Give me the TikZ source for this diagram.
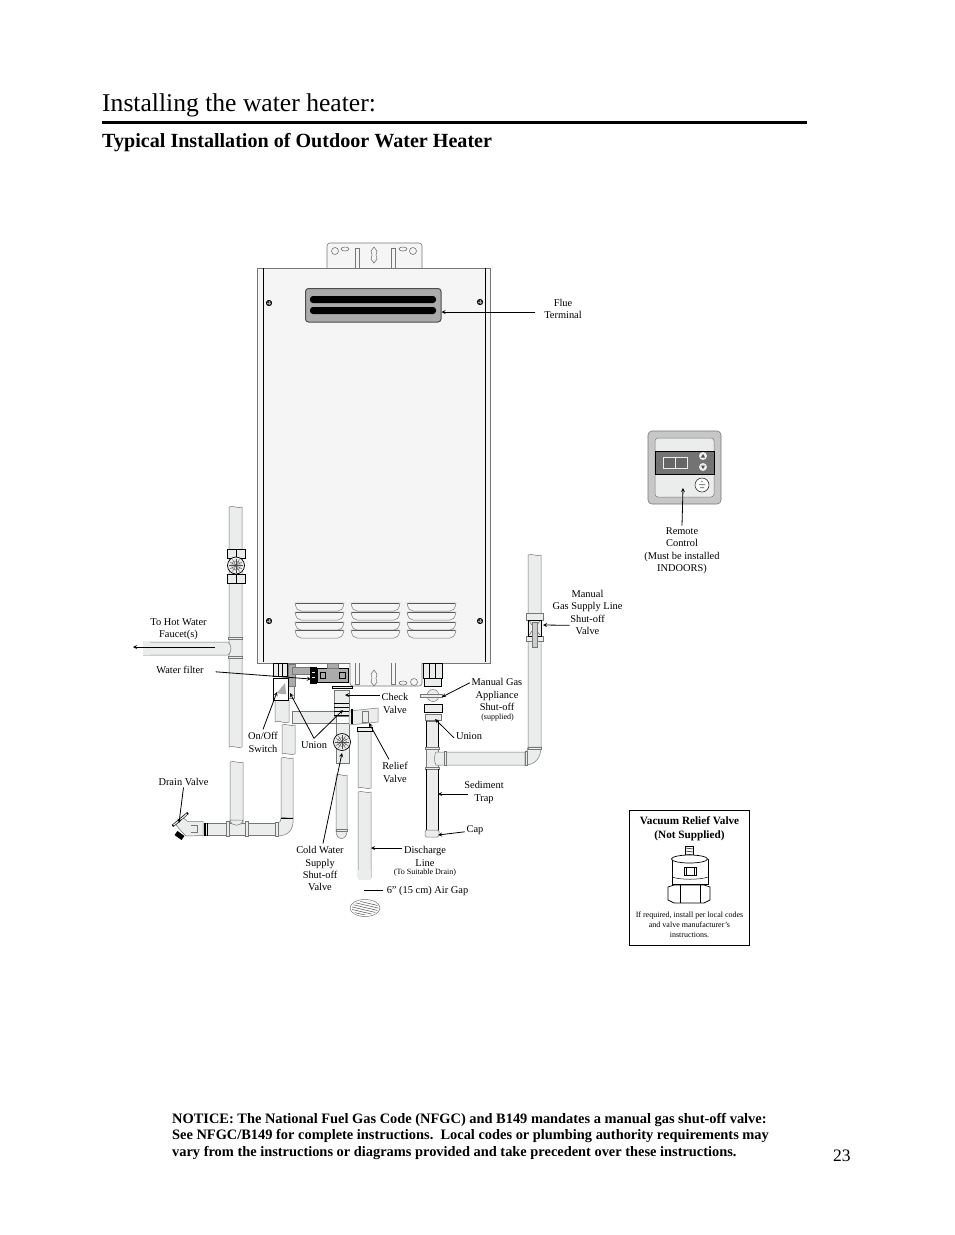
\documentclass[tikz,border=0pt]{standalone}
\usepackage{fontspec}
\setmainfont{Liberation Serif}
\definecolor{pipefill}{HTML}{EBECEC}
\definecolor{casefill}{HTML}{F5F5F5}
\definecolor{pipeline}{HTML}{777777}
\definecolor{fitfill}{HTML}{ABABAB}
\tikzset{
  lbl/.style={align=center,inner sep=0pt,outer sep=2pt,yshift=-0.8pt,font=\fontsize{10.4}{12.4}\selectfont},
  tiny/.style={align=center,inner sep=0pt,yshift=-0.8pt,font=\fontsize{8}{9.6}\selectfont},
  lead/.style={-stealth,black,line width=0.8pt},
  pipe/.style={draw=pipeline,fill=pipefill,line width=0.5pt},
  nut/.style={draw=black,fill=pipefill,line width=0.7pt},
  fit/.style={draw=black,fill=fitfill,line width=0.7pt},
  part/.style={draw=pipeline,fill=casefill,line width=0.6pt},
  screw/.style={circle,draw=black,fill=black!80,minimum size=5.5pt,inner sep=0pt,line width=0.6pt}
}
\begin{document}
\begin{tikzpicture}[x=1pt,y=-1pt]
\useasboundingbox (0,0) rectangle (954,1235);
\fill[white] (0,0) rectangle (954,1235);
\node[anchor=base west,inner sep=0pt,font=\fontsize{25.6}{30}\selectfont] (title) at (102,111.5) {Installing the water heater:};
\draw[line width=2.6pt] (102,122.5) -- (807,122.5);
\node[anchor=base west,inner sep=0pt,font=\fontsize{20.1}{22}\selectfont\bfseries] (heading) at (102,147) {Typical Installation of Outdoor Water Heater};
% wall bracket
\draw[part,rounded corners=3pt] (327,268) -- (327,243) -- (422,243) -- (422,268);
\draw[part] (335,251) circle (3.5) (413,251) circle (3.5);
\draw[part] (345,249) ellipse (4 and 2) (403,249) ellipse (4 and 2);
\draw[part] (355.5,268) -- (355.5,248) -- (359.5,248) -- (359.5,268);
\draw[part] (391,268) -- (391,248) -- (395,248) -- (395,268);
\draw[part] (374,247) -- (377,251) -- (376,255) -- (377,259) -- (374,263) -- (371,259) -- (372,255) -- (371,251) -- cycle;
% case
\draw[draw=pipeline,fill=casefill,line width=0.6pt] (257,268) rectangle (490,663);
\draw[line width=0.9pt] (263,268) -- (263,662) (485,268) -- (485,662);
\draw[draw=black!70,fill=fitfill,line width=1pt,rounded corners=3pt] (305.5,288.5) rectangle (441,322);
\foreach \y in {296,307}
  \fill[black,rounded corners=3pt] (310,\y) rectangle (436,\y+7);
\node[screw] (screwa) at (269,303) {};
\node[screw] (screwb) at (480,302) {};
\node[screw] (screwc) at (269,621) {};
\node[screw] (screwd) at (480,621) {};
\foreach \x/\y in {269/303,480/302,269/621,480/621}
  \draw[black!35,line width=0.3pt] (\x-2,\y) -- (\x+2,\y) (\x,\y-2) -- (\x,\y+2);
\foreach \x in {295,351,407}
  \foreach \y in {603,612,622,630} {
    \draw[draw=pipeline,fill=casefill,line width=0.5pt] (\x,\y) -- (\x+49,\y) .. controls (\x+48,\y+6) and (\x+46,\y+8) .. (\x+43,\y+8) -- (\x+6,\y+8) .. controls (\x+3,\y+8) and (\x+1,\y+6) .. (\x,\y) -- cycle;
    \draw[black!65,line width=1.1pt] (\x+1,\y+0.7) -- (\x+48,\y+0.7);
  }
% bottom bracket
\draw[part,rounded corners=3pt] (350,663) -- (350,686) -- (422,686) -- (422,663);
\draw[part] (355.5,663) -- (355.5,684) -- (359.5,684) -- (359.5,663);
\draw[part] (391,663) -- (391,684) -- (395,684) -- (395,663);
\draw[part] (374,670) -- (377,674) -- (376,678) -- (377,682) -- (374,686) -- (371,682) -- (372,678) -- (371,674) -- cycle;
\draw[part] (414,682) circle (3.5) (403,683) ellipse (4 and 2);
% hot water side
\foreach \xa/\ya/\xb/\yb in {229/507/242/747, 230/762/243/825, 282/725/295/754, 281/758/293/818, 336/775/347/831, 358/731/371/788, 358/792/371/880, 528/555/541/748}
  \draw[pipe] (\xa,\ya) .. controls (\xa+4,\ya-2) and (\xb-4,\ya+2) .. (\xb,\ya) -- (\xb,\yb) .. controls (\xb-4,\yb+2) and (\xa+4,\yb-2) .. (\xa,\yb) -- cycle;
\fill[white] (357,878) rectangle (372,882);
\fill[pipefill] (358.3,870) rectangle (370.7,880);
\draw[pipe] (143,642) -- (228,642) .. controls (232,645) and (232,652) .. (228,655) -- (143,655);
\fill[pipefill] (143,642.4) rectangle (150,654.6);
\foreach \y in {638,657}
  \draw[pipe] (228.5,\y-1.2) rectangle (242.5,\y+1.2);
\draw[nut] (227,549) rectangle (245,558) (227,574) rectangle (245,583);
\draw[black,line width=0.5pt] (236,549) -- (236,558) (236,574) -- (236,583);
\draw[nut] (236,565.5) circle (8.5);
\foreach \a in {0,30,...,150}
  \draw[black!70,line width=0.4pt] (236,565.5) ++(\a:7) -- ++(\a+180:14);
\draw[black!60,line width=0.4pt] (236,565.5) circle (4.5);
% drain line
\draw[pipe] (205,823) rectangle (277,835.5);
\foreach \x in {207,226,247}
  \draw[draw=black,line width=1pt] (\x,823) -- (\x,835.5);
\draw[pipe] (226.5,821.5) rectangle (229.5,836) (245.5,821.5) rectangle (248,836);
\draw[pipe] (230,820) .. controls (231,827) and (242,827) .. (243,820) -- cycle;
\draw[pipe] (281,818) -- (293,818) .. controls (294,830) and (288,836) .. (277,836) -- (277,823) .. controls (280,823) and (281,821) .. (281,818) -- cycle;
\draw[black,line width=1pt] (281,818) -- (293,818);
\draw[pipe] (275.5,822.5) rectangle (278,836);
\draw[pipe] (203,821.5) -- (188,821.5) -- (182,817) -- (176,825) -- (182,832) -- (186,836) -- (203,835.5) -- cycle;
\draw[black,line width=2pt] (204.5,822.5) -- (204.5,836);
\draw[black,line width=2.4pt] (172.5,826) -- (188,813);
\draw[pipefill,line width=1.2pt] (173.5,825.2) -- (187,814);
\draw[pipeline,line width=0.5pt] (191,825) -- (197,825) -- (197,832) -- (191,832);
\draw[black,line width=5pt] (176,833) -- (183,838);
% cold water side
\draw[pipe] (292,711) rectangle (336,723);
\draw[pipe] (336,723) rectangle (349,763);
\draw[nut] (342,742) circle (8.5);
\foreach \a in {0,30,...,150}
  \draw[black!70,line width=0.4pt] (342,742) ++(\a:7) -- ++(\a+180:14);
\draw[black!60,line width=0.4pt] (342,742) circle (4.5);
\draw[pipe] (336,831) .. controls (336,841) and (347,841) .. (347,831) -- cycle;
\draw[pipe] (336,829) rectangle (347,831);
\draw[pipe] (334,690) rectangle (349,716);
\foreach \y in {703,707,711,715}
  \draw[black,line width=1pt] (334,\y) -- (349,\y);
\draw[pipe] (349,711) -- (378,708) -- (378,722) -- (349,725) -- cycle;
\draw[black,line width=2pt] (352,709) -- (352,724);
\draw[pipeline] (362,711) rectangle (368,722);
\draw[nut] (357,727) rectangle (372,731);
% on/off switch and water filter
\draw[nut] (273,663) rectangle (287,676);
\foreach \x in {278,282}
  \draw[black,line width=0.4pt] (\x,663) -- (\x,676);
\draw[fit,draw=pipeline,fill=fitfill] (288,664) rectangle (295,686);
\draw[pipe] (275,700) -- (289,700) -- (289,722) .. controls (284,725) and (280,719) .. (275,722) -- cycle;
\draw[pipe] (288,686) rectangle (294,698);
\draw[fit,draw=pipeline] (292,667) rectangle (311,674);
\draw[draw=black,fill=white,line width=0.9pt] (273.5,678) rectangle (288,700);
\fill[fitfill] (277,693) -- (285,683) -- (286,694) -- (282,694) -- cycle;
\draw[fit] (317,668) rectangle (348,682);
\draw[fit,draw=pipeline] (327,663) rectangle (338,668);
\fill[black] (310,667) rectangle (317,684);
\draw[pipefill,line width=0.5pt] (312,672) -- (315,672) (312,677) -- (315,677);
\draw[nut,fill=fitfill] (320,672) rectangle (325,678) (339,672) rectangle (345,678);
\draw[nut] (332,686) rectangle (352,688.5);
% gas side
\draw[pipe] (426,721) rectangle (438.5,830);
\draw[pipe] (436,752) -- (525,752) -- (525,765) -- (436,765) .. controls (434,762) and (434,755) .. (436,752) -- cycle;
\draw[pipe] (528,747) -- (541,747) .. controls (541,758) and (535,765) .. (525,765) -- (525,752) .. controls (527,752) and (528,750) .. (528,747) -- cycle;
\draw[pipe] (444,751) rectangle (446,765) (525,751) rectangle (527,765) (528,747) rectangle (541,749);
\foreach \y in {748,768}
  \draw[pipe] (425.5,\y-1) rectangle (439,\y+1);
\draw[pipe,rounded corners=1.5pt] (425,830) rectangle (439,837);
\draw[black,line width=0.8pt] (426,721) -- (426,747) (438.5,721) -- (438.5,747) (426,769) -- (426,830) (438.5,769) -- (438.5,830);
\draw[nut] (423,663) rectangle (442,678);
\foreach \x in {429,435.5}
  \draw[black,line width=0.7pt] (\x,663) -- (\x,678);
\draw[nut] (424,678) rectangle (441,686);
\draw[pipe] (433,695.5) circle (6);
\draw[pipe] (420,694.5) rectangle (442,697);
\draw[nut] (424,704) rectangle (442,712);
\draw[pipe] (425,714) rectangle (441,720);
\draw[nut,draw=pipeline] (526,613) rectangle (543,620) (526,636) rectangle (543,641);
\draw[nut] (528,620) rectangle (541,636);
\draw[black!70,line width=0.4pt] (529,621) -- (540,635) (540,621) -- (529,635);
\draw[draw=pipeline,fill=fitfill!60,line width=0.5pt] (532,622) -- (537,622) -- (537,647) -- (532,647) -- cycle;
% remote control
\draw[draw=pipeline,fill=black!22,rounded corners=4pt,line width=0.6pt] (648,431) rectangle (721,504);
\draw[draw=pipeline,fill=pipefill,rounded corners=3pt,line width=0.5pt] (655,438) rectangle (714,497);
\node[draw=black,fill=black!55,minimum width=59pt,minimum height=23pt,inner sep=0pt,line width=0.6pt] (panel) at (684.5,462.5) {};
\draw[draw=pipefill,fill=black!60,line width=0.6pt] (663,457) rectangle (675,468.5) (675,457) rectangle (687,468.5);
\foreach \y in {456,467}
  \fill[pipefill] (703,\y) circle (4);
\fill[black!70] (701,457.5) -- (705,457.5) -- (703,454) -- cycle (701,465.5) -- (705,465.5) -- (703,469) -- cycle;
\node[circle,draw=black!80,fill=white,minimum size=14pt,inner sep=0pt,line width=0.6pt] (remotebtn) at (702,485) {};
\fill[black!45] (699,484) rectangle (705,485) (700,487) rectangle (704,488) (702,481.5) circle (0.8);
% vacuum relief valve
\node[draw=black,line width=0.6pt,minimum width=120pt,minimum height=135.5pt,inner sep=0pt] (vacbox) at (689,878) {};
\node[tiny,font=\fontsize{11.2}{14}\selectfont\bfseries] (vactitle) at (689.5,828) {Vacuum Relief Valve\\(Not Supplied)};
\node[tiny] (vacnote) at (689.5,924) {If required, install per local codes\\and valve manufacturer’s\\instructions.};
\draw[black,line width=0.6pt,fill=white] (685.5,846) rectangle (693,857);
\foreach \y in {848,851,854}
  \draw[black,line width=0.5pt] (685.5,\y) -- (693,\y+1);
\draw[black,line width=0.7pt,fill=white] (672,859) -- (672,884) -- (708,884) -- (708,859);
\draw[black,line width=0.7pt,fill=white] (689.5,859) ellipse (18 and 4);
\draw[black,line width=0.5pt] (672,877) .. controls (680,880) and (700,880) .. (708,877);
\draw[black,line width=0.5pt,fill=white] (684,867) rectangle (696,875);
\draw[black,line width=1pt] (686,867) -- (686,875) (694,867) -- (694,875);
\draw[black,line width=0.7pt,fill=white] (668,887) -- (674,885) -- (704,885) -- (710,887) -- (710,900) -- (704,903) -- (674,903) -- (668,900) -- cycle;
\draw[black,line width=0.5pt] (680,885) -- (680,903) (700,885) -- (700,903);
% floor drain
\draw[draw=pipeline,fill=white,line width=0.5pt] (365,908) ellipse (15 and 8.5);
\begin{scope}
  \clip (365,908) ellipse (13.5 and 7);
  \foreach \i in {-24,-21.5,...,24}
    \draw[black!60,line width=0.6pt] (350,908+\i) -- (380,915+\i);
\end{scope}
% labels
\node[lbl] (flue) at (563,308) {Flue\\Terminal};
\node[lbl] (remote) at (682,550) {Remote\\Control\\(Must be installed\\INDOORS)};
\node[lbl] (gasline) at (587.5,611.5) {Manual\\Gas Supply Line\\Shut-off\\Valve};
\node[lbl] (hotline) at (178.5,628.5) {To Hot Water\\Faucet(s)};
\node[lbl] (filterlbl) at (180,669) {Water filter};
\node[lbl] (onoff) at (263,741.5) {On/Off\\Switch};
\node[lbl] (unionl) at (314,744) {Union};
\node[lbl] (check) at (395,702.5) {Check\\Valve};
\node[lbl] (relief) at (395,771.5) {Relief\\Valve};
\node[lbl] (drainv) at (183.5,781) {Drain Valve};
\node[lbl] (cold) at (320,868) {Cold Water\\Supply\\Shut-off\\Valve};
\node[lbl] (gasvalve) at (497,694) {Manual Gas\\Appliance\\Shut-off};
\node[tiny] (supplied) at (497.5,717) {(supplied)};
\node[lbl] (unionr) at (469,735) {Union};
\node[lbl] (sediment) at (484,791.5) {Sediment\\Trap};
\node[lbl] (capl) at (475,829) {Cap};
\node[lbl] (discharge) at (425,855.5) {Discharge\\Line};
\node[tiny] (todrain) at (425,871.5) {(To Suitable Drain)};
\node[lbl] (airgap) at (427.5,890) {6" (15 cm) Air Gap};
% arrow ends
\coordinate (ventend) at (441.5,312);
\coordinate (remoteend) at (683,488);
\coordinate (hotend) at (133,647);
\coordinate (hotstart) at (215,647);
\coordinate (filterend) at (311,679);
\coordinate (onoffend) at (277,692);
\coordinate (unionleft) at (290,693);
\coordinate (unionmid) at (343,710);
\coordinate (checkend) at (345,695);
\coordinate (reliefend) at (369,723);
\coordinate (drainend) at (179,823);
\coordinate (coldend) at (342,753);
\coordinate (gasend) at (442,697);
\coordinate (unionend) at (435,719);
\coordinate (sedend) at (438,794);
\coordinate (capend) at (438,835);
\coordinate (dischend) at (371,848);
\coordinate (lineend) at (543,625);
\coordinate (gapstart) at (364,890);
\draw[lead] (flue.west |- ventend) ++(-7,0) -- (ventend);
\draw[lead] (remote.north) -- (remoteend);
\draw[lead] ([xshift=19pt,yshift=-13pt]gasline.west) -- (lineend);
\draw[lead] (hotstart) -- (hotend);
\draw[lead] ([xshift=10pt,yshift=-2pt]filterlbl.east) -- (filterend);
\draw[lead] ([yshift=1pt]onoff.north) -- (onoffend);
\draw[lead] ([yshift=1pt]unionl.north) -- (unionleft);
\draw[lead] ([yshift=1pt]unionl.north) -- (unionmid);
\draw[lead] (check.west |- checkend) -- (checkend);
\draw[lead] ([xshift=-6pt,yshift=1pt]relief.north) -- (reliefend);
\draw[lead] (drainv.south) -- (drainend);
\draw[lead] ([xshift=3pt,yshift=1pt]cold.north) -- (coldend);
\draw[lead] ([yshift=12pt]gasvalve.west) -- (gasend);
\draw[lead] ([yshift=-2pt]unionr.west) -- (unionend);
\draw[lead] ([xshift=6pt]sediment.west |- sedend) -- (sedend);
\draw[lead] ([yshift=-2pt]capl.west) -- (capend);
\draw[lead] (discharge.west |- dischend) -- (dischend);
\draw[black,line width=0.8pt] (gapstart) -- ([xshift=-2pt]airgap.west |- gapstart);
% notice
\node[anchor=north west,align=left,inner sep=0pt,font=\fontsize{14.4}{16.5}\selectfont\bfseries] (notice) at (172,1113) {NOTICE: The National Fuel Gas Code (NFGC) and B149 mandates a manual gas shut-off valve:\\See NFGC/B149 for complete instructions.\ \ Local codes or plumbing authority requirements may\\vary from the instructions or diagrams provided and take precedent over these instructions.};
\node[anchor=base west,inner sep=0pt,font=\fontsize{17.5}{20}\selectfont] (pagenum) at (833,1161) {23};
\end{tikzpicture}
\end{document}
